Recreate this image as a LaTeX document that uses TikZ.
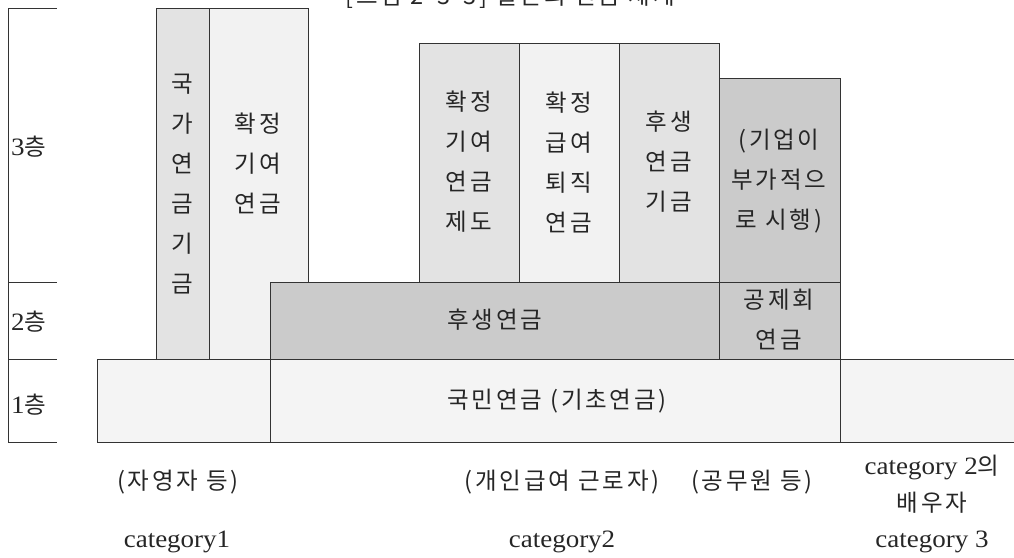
\documentclass[tikz,border=0pt]{standalone}
\usepackage{fontspec}
\setmainfont{Liberation Serif}
\newfontfamily\cjk[LetterSpace=12]{Noto Sans CJK KR}
\newfontfamily\latn[FakeStretch=1.08]{Liberation Serif}
\definecolor{gA}{HTML}{E3E3E3}
\definecolor{gB}{HTML}{F2F2F2}
\definecolor{gC}{HTML}{F4F4F4}
\definecolor{gD}{HTML}{CBCBCB}
\definecolor{ln}{HTML}{333333}
\tikzset{
  blk/.style={draw=ln, line width=1pt, inner sep=0pt, outer sep=0pt},
  kt/.style={font={\cjk\fontsize{23.5}{40}\selectfont}, align=center, inner sep=0pt, text=black!85},
  lt/.style={font={\latn\fontsize{25}{36}\selectfont}, align=center, inner sep=0pt, text=black!85},
  scl/.style={draw=ln, line width=1pt}
}
\begin{document}
\begin{tikzpicture}[x=1pt,y=-1pt]
\useasboundingbox (0,0) rectangle (1014,557);
% title (cut off at top)
\node[kt, anchor=base] (title) at (510,4) {[그림 2-3-3] 일본의 연금 체계};
% scale on the left
\draw[scl] (8,8) -- (8,442);
\draw[scl] (8,8) -- (57,8);
\draw[scl] (8,282) -- (57,282);
\draw[scl] (8,359) -- (57,359);
\draw[scl] (8,442) -- (57,442);
\node[kt, anchor=west] (l3) at (11,147) {{\latn\fontsize{25}{30}\selectfont 3}층};
\node[kt, anchor=west] (l2) at (11,322) {{\latn\fontsize{25}{30}\selectfont 2}층};
\node[kt, anchor=west] (l1) at (11,405) {{\latn\fontsize{25}{30}\selectfont 1}층};
% boxes
\path[blk, fill=gA] (156,8) rectangle (209,359);
\path[blk, fill=gB] (209,8) rectangle (308,359);
\path[blk, fill=gC] (97,359) rectangle (270,442);
\path[blk, fill=gC] (270,359) rectangle (840,442);
\path[blk, fill=gC] (840,359) rectangle (1030,442);
\path[blk, fill=gD] (270,282) rectangle (719,359);
\path[blk, fill=gD] (719,282) rectangle (840,359);
\path[blk, fill=gA] (419,43) rectangle (519,282);
\path[blk, fill=gB] (519,43) rectangle (619,282);
\path[blk, fill=gA] (619,43) rectangle (719,282);
\path[blk, fill=gD] (719,78) rectangle (840,282);
% texts in boxes
\node[kt] (kukga) at (182,184) {국\\가\\연\\금\\기\\금};
\node[kt] (dc1) at (258,163) {확정\\기여\\연금};
\node[kt] (dc2) at (469,162) {확정\\기여\\연금\\제도};
\node[kt] (db) at (569,162) {확정\\급여\\퇴직\\연금};
\node[kt] (epf) at (669,162) {후생\\연금\\기금};
\node[kt] (corp) at (779,181) {(기업이\\부가적으\\로 시행)};
\node[kt] (kyo) at (779,320) {공제회\\연금};
\node[kt] (kosei) at (495,320) {후생연금};
\node[kt] (npn) at (557,401) {국민연금 (기초연금)};
% bottom labels
\node[kt] (c1a) at (178,482) {(자영자 등)};
\node[kt] (c2a) at (562,482) {(개인급여 근로자)};
\node[kt] (c2b) at (752,482) {(공무원 등)};
\node[lt] (c3a) at (932,467) {category 2{\cjk\fontsize{23.5}{30}\selectfont 의}};
\node[kt] (c3b) at (932,503) {배우자};
\node[lt] (c1) at (177,542) {category1};
\node[lt] (c2) at (562,542) {category2};
\node[lt] (c3) at (932,542) {category 3};
\end{tikzpicture}
\end{document}
